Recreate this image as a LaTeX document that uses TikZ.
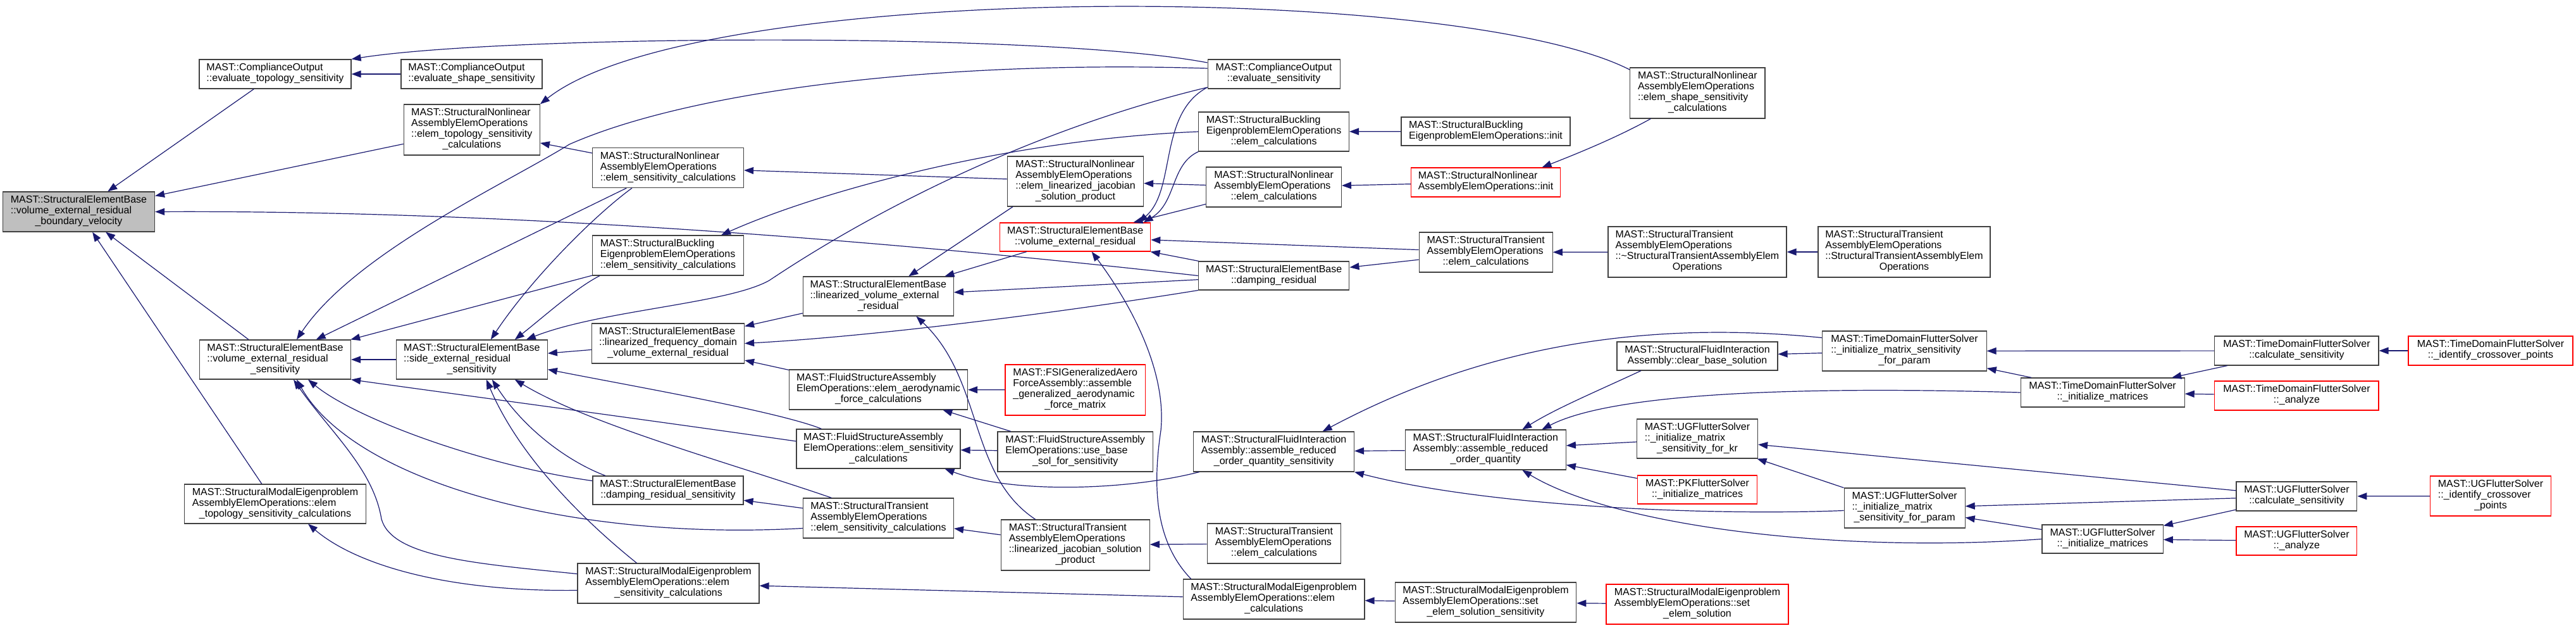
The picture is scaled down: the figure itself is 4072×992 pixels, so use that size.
\documentclass[tikz,border=0pt]{standalone}
\usepackage{fontspec}
\setmainfont{Liberation Sans}
\usetikzlibrary{arrows.meta}
\definecolor{edgeblue}{HTML}{191970}
\definecolor{framegray}{HTML}{404040}
\definecolor{rootgray}{HTML}{BFBFBF}
\definecolor{truncred}{HTML}{FF0000}
% left aligned lines, last line centred
\newcommand{\fnlabel}[2]{\begin{tabular}{@{}l@{}}#1\\\multicolumn{1}{@{}c@{}}{#2}\end{tabular}}

\begin{document}
\begin{tikzpicture}[
    x=1pt, y=-1pt,
    func/.style={
        rectangle,
        draw=framegray,
        fill=white,
        line width=1.2pt,
        inner sep=0pt,
        font=\fontsize{16}{17}\selectfont
    },
    trunc/.style={func, draw=truncred},
    boxsize/.style 2 args={minimum width=#1pt, minimum height=#2pt},
    call/.style={-{Triangle[length=15pt,width=11pt]}, draw=edgeblue, line width=1.2pt}
]
\useasboundingbox (0,0) rectangle (4072,992);

% Funciones
\node[func, fill=rootgray, boxsize={240}{63}] (boundary) at (124.5,334.5)
    {\fnlabel{MAST::StructuralElementBase\\::volume\_external\_residual}{\_boundary\_velocity}};

\node[func, boxsize={240}{46}] (cotopo) at (435,117)
    {\fnlabel{MAST::ComplianceOutput}{::evaluate\_topology\_sensitivity}};
\node[func, boxsize={239}{62}] (volsens) at (435,568)
    {\fnlabel{MAST::StructuralElementBase\\::volume\_external\_residual}{\_sensitivity}};
\node[func, boxsize={287}{62}] (modaltopo) at (435,796)
    {\fnlabel{MAST::StructuralModalEigenproblem\\AssemblyElemOperations::elem}{\_topology\_sensitivity\_calculations}};

\node[func, boxsize={223}{46}] (coshape) at (745.5,117)
    {\fnlabel{MAST::ComplianceOutput}{::evaluate\_shape\_sensitivity}};
\node[func, boxsize={215}{80}] (nltopo) at (745.8,205)
    {\fnlabel{MAST::StructuralNonlinear\\AssemblyElemOperations\\::elem\_topology\_sensitivity}{\_calculations}};
\node[func, boxsize={239}{62}] (sidesens) at (745.8,568)
    {\fnlabel{MAST::StructuralElementBase\\::side\_external\_residual}{\_sensitivity}};

\node[func, boxsize={239}{63}] (nlsens) at (1056,265)
    {\fnlabel{MAST::StructuralNonlinear\\AssemblyElemOperations}{::elem\_sensitivity\_calculations}};
\node[func, boxsize={239}{63}] (bucksens) at (1056,403.5)
    {\fnlabel{MAST::StructuralBuckling\\EigenproblemElemOperations}{::elem\_sensitivity\_calculations}};
\node[func, boxsize={241}{63}] (linfreq) at (1056,542.5)
    {\fnlabel{MAST::StructuralElementBase\\::linearized\_frequency\_domain}{\_volume\_external\_residual}};
\node[func, boxsize={238}{45}] (dampsens) at (1056,774.5)
    {\fnlabel{MAST::StructuralElementBase}{::damping\_residual\_sensitivity}};
\node[func, boxsize={287}{63}] (modalsens) at (1056.5,921.5)
    {\fnlabel{MAST::StructuralModalEigenproblem\\AssemblyElemOperations::elem}{\_sensitivity\_calculations}};

\node[func, boxsize={238}{62}] (linvol) at (1388.3,468)
    {\fnlabel{MAST::StructuralElementBase\\::linearized\_volume\_external}{\_residual}};
\node[func, boxsize={282}{63}] (fsaero) at (1388.5,615.5)
    {\fnlabel{MAST::FluidStructureAssembly\\ElemOperations::elem\_aerodynamic}{\_force\_calculations}};
\node[func, boxsize={259}{62}] (fssens) at (1388.5,709)
    {\fnlabel{MAST::FluidStructureAssembly\\ElemOperations::elem\_sensitivity}{\_calculations}};
\node[func, boxsize={238}{63}] (transsens) at (1388.5,818.5)
    {\fnlabel{MAST::StructuralTransient\\AssemblyElemOperations}{::elem\_sensitivity\_calculations}};

\node[func, boxsize={215}{79}] (nljac) at (1700,286.5)
    {\fnlabel{MAST::StructuralNonlinear\\AssemblyElemOperations\\::elem\_linearized\_jacobian}{\_solution\_product}};
\node[trunc, boxsize={238}{45}] (volres) at (1699.7,374.5)
    {\fnlabel{MAST::StructuralElementBase}{::volume\_external\_residual}};
\node[trunc, boxsize={221.5}{80}] (fsigen) at (1699.7,616)
    {\fnlabel{MAST::FSIGeneralizedAero\\ForceAssembly::assemble\\\_generalized\_aerodynamic}{\_force\_matrix}};
\node[func, boxsize={245.5}{63}] (fsbase) at (1699.7,713.5)
    {\fnlabel{MAST::FluidStructureAssembly\\ElemOperations::use\_base}{\_sol\_for\_sensitivity}};
\node[func, boxsize={235}{80}] (transjac) at (1699.7,861)
    {\fnlabel{MAST::StructuralTransient\\AssemblyElemOperations\\::linearized\_jacobian\_solution}{\_product}};

\node[func, boxsize={209}{46}] (coeval) at (2013.6,117)
    {\fnlabel{MAST::ComplianceOutput}{::evaluate\_sensitivity}};
\node[func, boxsize={237.6}{62}] (buckelem) at (2013.6,208)
    {\fnlabel{MAST::StructuralBuckling\\EigenproblemElemOperations}{::elem\_calculations}};
\node[func, boxsize={213.5}{63}] (nlelem) at (2013.6,295.5)
    {\fnlabel{MAST::StructuralNonlinear\\AssemblyElemOperations}{::elem\_calculations}};
\node[func, boxsize={238.5}{45}] (damping) at (2013.6,435.5)
    {\fnlabel{MAST::StructuralElementBase}{::damping\_residual}};
\node[func, boxsize={253.6}{63}] (sfisens) at (2013.6,713.5)
    {\fnlabel{MAST::StructuralFluidInteraction\\Assembly::assemble\_reduced}{\_order\_quantity\_sensitivity}};
\node[func, boxsize={211.3}{63}] (transelemb) at (2013.9,858.5)
    {\fnlabel{MAST::StructuralTransient\\AssemblyElemOperations}{::elem\_calculations}};
\node[func, boxsize={286.7}{63}] (modalelem) at (2013.6,946.5)
    {\fnlabel{MAST::StructuralModalEigenproblem\\AssemblyElemOperations::elem}{\_calculations}};

\node[func, boxsize={267}{45}] (buckinit) at (2348.5,207.5)
    {\fnlabel{MAST::StructuralBuckling}{EigenproblemElemOperations::init}};
\node[trunc, boxsize={235.7}{46}] (nlinit) at (2348.5,288)
    {\fnlabel{MAST::StructuralNonlinear}{AssemblyElemOperations::init}};
\node[func, boxsize={211}{63}] (transelem) at (2348.7,398.5)
    {\fnlabel{MAST::StructuralTransient\\AssemblyElemOperations}{::elem\_calculations}};
\node[func, boxsize={254}{63}] (sfirom) at (2348.3,710.5)
    {\fnlabel{MAST::StructuralFluidInteraction\\Assembly::assemble\_reduced}{\_order\_quantity}};
\node[func, boxsize={286.6}{63}] (modalset) at (2348.5,951.5)
    {\fnlabel{MAST::StructuralModalEigenproblem\\AssemblyElemOperations::set}{\_elem\_solution\_sensitivity}};

\node[func, boxsize={213.5}{80}] (nlshape) at (2683.3,147)
    {\fnlabel{MAST::StructuralNonlinear\\AssemblyElemOperations\\::elem\_shape\_sensitivity}{\_calculations}};
\node[func, boxsize={282}{80}] (transdtor) at (2683,398)
    {\fnlabel{MAST::StructuralTransient\\AssemblyElemOperations\\::\textasciitilde StructuralTransientAssemblyElem}{Operations}};
\node[func, boxsize={254}{45}] (sficlear) at (2683,562.5)
    {\fnlabel{MAST::StructuralFluidInteraction}{Assembly::clear\_base\_solution}};
\node[func, boxsize={191}{62}] (ugkr) at (2683,693)
    {\fnlabel{MAST::UGFlutterSolver\\::\_initialize\_matrix}{\_sensitivity\_for\_kr}};
\node[trunc, boxsize={189}{45}] (pkinit) at (2683,773.5)
    {\fnlabel{MAST::PKFlutterSolver}{::\_initialize\_matrices}};
\node[trunc, boxsize={288}{63}] (modalsetsol) at (2683,954.5)
    {\fnlabel{MAST::StructuralModalEigenproblem\\AssemblyElemOperations::set}{\_elem\_solution}};

\node[func, boxsize={272}{80}] (transctor) at (3010,398)
    {\fnlabel{MAST::StructuralTransient\\AssemblyElemOperations\\::StructuralTransientAssemblyElem}{Operations}};
\node[func, boxsize={259.4}{63}] (tdparam) at (3010.4,554.5)
    {\fnlabel{MAST::TimeDomainFlutterSolver\\::\_initialize\_matrix\_sensitivity}{\_for\_param}};
\node[func, boxsize={191}{63}] (ugparam) at (3010.6,802.5)
    {\fnlabel{MAST::UGFlutterSolver\\::\_initialize\_matrix}{\_sensitivity\_for\_param}};

\node[func, boxsize={259}{46}] (tdinit) at (3323.6,620)
    {\fnlabel{MAST::TimeDomainFlutterSolver}{::\_initialize\_matrices}};
\node[func, boxsize={191.3}{45}] (uginit) at (3323.6,851.5)
    {\fnlabel{MAST::UGFlutterSolver}{::\_initialize\_matrices}};

\node[func, boxsize={259.3}{46}] (tdsens) at (3630.4,554)
    {\fnlabel{MAST::TimeDomainFlutterSolver}{::calculate\_sensitivity}};
\node[trunc, boxsize={259.3}{46}] (tdanalyze) at (3630.4,625)
    {\fnlabel{MAST::TimeDomainFlutterSolver}{::\_analyze}};
\node[func, boxsize={190.7}{46}] (ugsens) at (3630.4,784)
    {\fnlabel{MAST::UGFlutterSolver}{::calculate\_sensitivity}};
\node[trunc, boxsize={190.7}{45}] (uganalyze) at (3630.4,854.5)
    {\fnlabel{MAST::UGFlutterSolver}{::\_analyze}};

\node[trunc, boxsize={260}{46}] (tdcross) at (3937,554)
    {\fnlabel{MAST::TimeDomainFlutterSolver}{::\_identify\_crossover\_points}};
\node[trunc, boxsize={191.2}{63}] (ugcross) at (3937,783.5)
    {\fnlabel{MAST::UGFlutterSolver\\::\_identify\_crossover}{\_points}};

% Llamadas rectas
\draw[call] (cotopo) -- (boundary);
\draw[call] (nltopo) -- (boundary);
\draw[call] (volsens) -- (boundary);
\draw[call] (modaltopo) -- (boundary);
\draw[call] (coshape) -- (cotopo);
\draw[call] (nlsens) -- (nltopo);
\draw[call] (nlsens) -- (volsens);
\draw[call] (bucksens) -- (volsens);
\draw[call] (sidesens) -- (volsens);
\draw[call] (linfreq) -- (sidesens);
\draw[call] ([xshift=-99pt]nljac.south) -- ([xshift=48pt]linvol.north);
\draw[call] (volres) -- (linvol);
\draw[call] (damping) -- (linvol);
\draw[call] (linvol) -- (linfreq);
\draw[call] (fsaero) -- (linfreq);
\draw[call] (fsigen) -- (fsaero);
\draw[call] (fsbase) -- (fsaero);
\draw[call] (fsbase) -- (fssens);
\draw[call] (transsens) -- (dampsens);
\draw[call] (transjac) -- (transsens);
\draw[call] (modalelem) -- (modalsens);
\draw[call] (nljac) -- (nlsens);
\draw[call] (nlelem) -- (nljac);
\draw[call] (nlelem) -- (volres);
\draw[call] (transelem) -- (volres);
\draw[call] (damping) -- (volres);
\draw[call] (sfirom) -- (sfisens);
\draw[call] (transelemb) -- (transjac);
\draw[call] (modalset) -- (modalelem);
\draw[call] (modalsetsol) -- (modalset);
\draw[call] (buckinit) -- (buckelem);
\draw[call] (nlinit) -- (nlelem);
\draw[call] (transelem) -- (damping);
\draw[call] (transdtor) -- (transelem);
\draw[call] (transctor) -- (transdtor);
\draw[call] (ugkr) -- (sfirom);
\draw[call] (pkinit) -- (sfirom);
\draw[call] (tdparam) -- (sficlear);
\draw[call] (tdsens) -- (tdparam);
\draw[call] (tdinit) -- (tdparam);
\draw[call] (tdsens) -- (tdinit);
\draw[call] (tdanalyze) -- (tdinit);
\draw[call] (tdcross) -- (tdsens);
\draw[call] (ugsens) -- (ugkr);
\draw[call] (ugparam) -- (ugkr);
\draw[call] (ugsens) -- (ugparam);
\draw[call] (uginit) -- (ugparam);
\draw[call] (ugsens) -- (uginit);
\draw[call] (uganalyze) -- (uginit);
\draw[call] (ugcross) -- (ugsens);

% Llamadas curvas
\draw[call] (damping.west) .. controls (1400,380) and (800,332) .. (boundary.east);
\draw[call] ([yshift=18pt]coeval.west) .. controls (1650,50) and (800,55) .. (cotopo.north east);
\draw[call] ([yshift=37pt]nlshape.west) .. controls (2300,-30) and (1100,-30) .. (nltopo.north east);
\draw[call] ([yshift=9pt]coeval.west) .. controls (1500,95) and (1100,140) .. (900,228)
    .. controls (800,290) and (560,400) .. ([xshift=34pt]volsens.north);
\draw[call] ([yshift=12pt]fssens.west) .. controls (1000,660) and (700,620) .. (volsens.south east);
\draw[call] ([yshift=15pt]dampsens.west) .. controls (760,735) and (560,660) .. ([xshift=52pt]volsens.south);
\draw[call] ([yshift=-16pt]transsens.west) .. controls (900,855) and (560,760) .. ([xshift=34pt]volsens.south);
\draw[call] ([yshift=15pt]modalsens.west) .. controls (750,890) and (620,880) .. (603,820)
    .. controls (590,740) and (520,680) .. ([xshift=29pt]volsens.south);
\draw[call] ([yshift=-11pt]modalsens.west) .. controls (700,935) and (560,890) .. ([xshift=52pt]modaltopo.south);
\draw[call] ([xshift=-57pt]nlsens.south) .. controls (940,340) and (840,440) .. ([xshift=30pt]sidesens.north);
\draw[call] ([xshift=-108pt]bucksens.south) .. controls (910,455) and (860,500) .. ([xshift=68pt]sidesens.north);
\draw[call] ([yshift=-21pt]coeval.west) .. controls (1650,200) and (1400,320) .. (1216,443)
    .. controls (1150,480) and (950,490) .. ([xshift=86pt]sidesens.north);
\draw[call] ([xshift=-90pt]fssens.north) .. controls (1230,650) and (1000,610) .. ([yshift=16pt]sidesens.south east);
\draw[call] ([xshift=-74pt]transsens.north) .. controls (1150,730) and (930,670) .. ([xshift=68pt]sidesens.south);
\draw[call] ([xshift=-99pt]dampsens.north) .. controls (900,730) and (830,680) .. ([xshift=32pt]sidesens.south);
\draw[call] ([xshift=-50pt]modalsens.north) .. controls (920,820) and (820,720) .. ([xshift=23pt]sidesens.south);
\draw[call] ([xshift=-63pt]transjac.north) .. controls (1530,750) and (1555,600) .. ([xshift=60pt]linvol.south);
\draw[call] (damping.south west) .. controls (1700,490) and (1400,530) .. (linfreq.east);
\draw[call] ([xshift=-118pt]sfisens.south) .. controls (1780,775) and (1600,780) .. ([xshift=105pt]fssens.south);
\draw[call] (buckelem.west) .. controls (1600,220) and (1300,300) .. ([xshift=84pt]bucksens.north);
\draw[call] ([yshift=-21pt]coeval.west) .. controls (1830,180) and (1860,300) .. ([xshift=100pt]volres.north);
\draw[call] (buckelem.south west) .. controls (1850,260) and (1860,320) .. ([xshift=108pt]volres.north);
\draw[call] ([xshift=-131pt]modalelem.north) .. controls (1830,860) and (1820,780) .. (1835,680)
    .. controls (1845,580) and (1780,470) .. ([xshift=26pt]volres.south);
\draw[call] ([yshift=21pt]tdparam.west) .. controls (2550,500) and (2300,570) .. ([xshift=77pt]sfisens.north);
\draw[call] ([yshift=-4pt]ugparam.west) .. controls (2700,815) and (2350,800) .. (sfisens.south east);
\draw[call] ([xshift=-89pt]sficlear.south) .. controls (2520,620) and (2460,645) .. ([xshift=58pt]sfirom.north);
\draw[call] (tdinit.west) .. controls (2850,610) and (2550,620) .. ([xshift=89pt]sfirom.north);
\draw[call] (uginit.west) .. controls (2900,875) and (2550,830) .. ([xshift=58pt]sfirom.south);
\draw[call] ([xshift=-74pt]nlshape.south) .. controls (2560,215) and (2500,240) .. ([xshift=89pt]nlinit.north);

\end{tikzpicture}
\end{document}
